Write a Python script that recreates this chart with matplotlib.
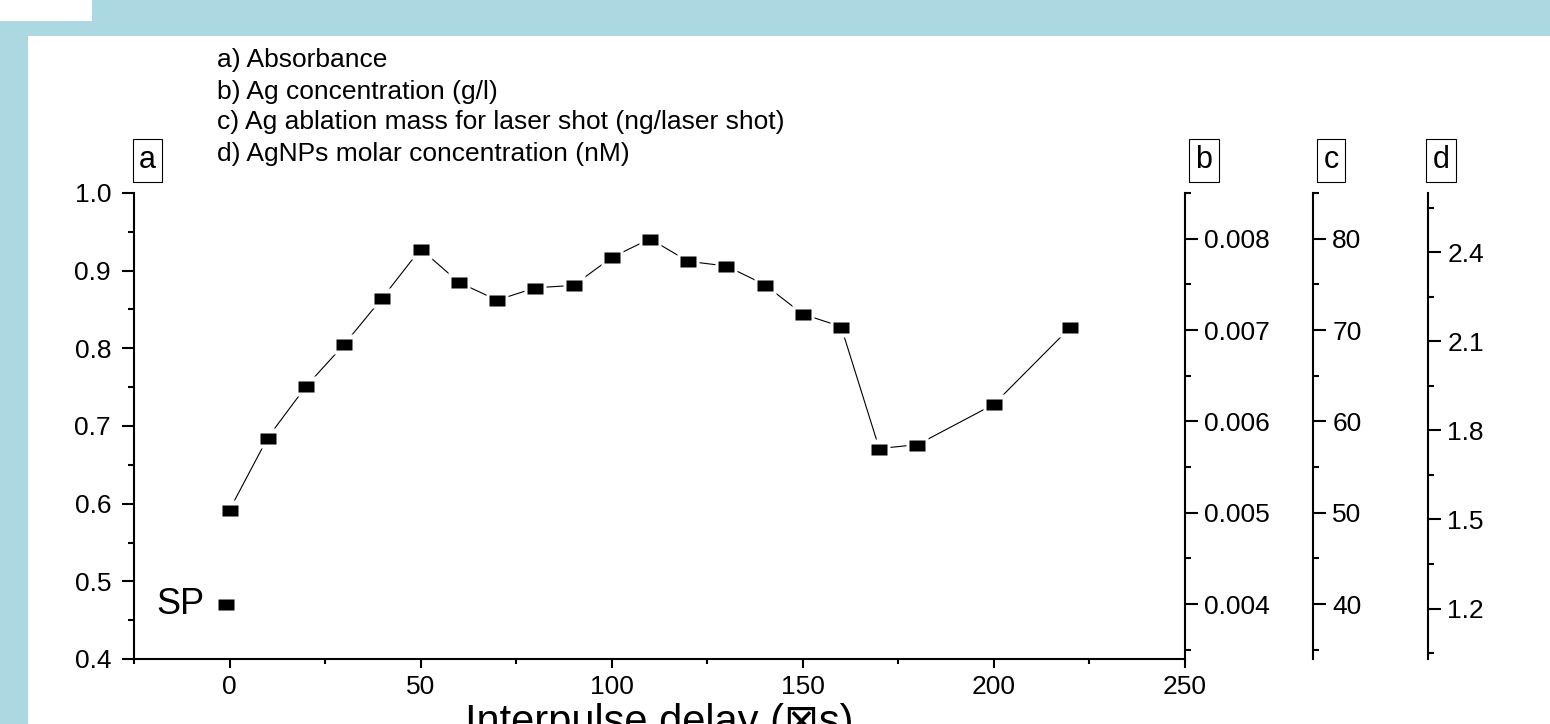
import matplotlib
matplotlib.use("Agg")
import matplotlib.pyplot as plt
from matplotlib.patches import Rectangle
from matplotlib.ticker import MultipleLocator, FormatStrFormatter

plt.rcParams['font.family'] = ['Liberation Sans', 'DejaVu Sans']

# data
delay = [0, 10, 20, 30, 40, 50, 60, 70, 80, 90, 100, 110, 120, 130, 140,
         150, 160, 170, 180, 200, 220]
absorbance = [0.592, 0.685, 0.751, 0.805, 0.865, 0.928, 0.885, 0.862, 0.878,
              0.881, 0.917, 0.941, 0.912, 0.906, 0.882, 0.844, 0.828, 0.671,
              0.676, 0.728, 0.827]
sp_delay = [-1]
sp_absorbance = [0.471]

legend_lines = ["a) Absorbance",
                "b) Ag concentration (g/l)",
                "c) Ag ablation mass for laser shot (ng/laser shot)",
                "d) AgNPs molar concentration (nM)"]

W, H = 1550, 724
fig = plt.figure(figsize=(W / 100, H / 100), dpi=100)
fig.patch.set_facecolor('#acd9e1')
fig.add_artist(Rectangle((28 / W, 0), 1, (H - 36) / H, transform=fig.transFigure,
                         fc='white', ec='none', zorder=0))
fig.add_artist(Rectangle((0, (H - 21) / H), 92 / W, 21 / H, transform=fig.transFigure,
                         fc='white', ec='none', zorder=0))

ax = fig.add_axes([134 / W, (H - 659) / H, 1051 / W, 466 / H])
ax.set_facecolor('white')

rect = [(-1, -0.72), (1, -0.72), (1, 0.72), (-1, 0.72), (-1, -0.72)]
halo = [(-1, -0.83), (1, -0.83), (1, 0.83), (-1, 0.83), (-1, -0.83)]
ax.plot(delay, absorbance, color='black', lw=0.8, zorder=2)
ax.plot(delay + sp_delay, absorbance + sp_absorbance, ls='none', marker=halo,
        ms=16.5, mfc='white', mec='none', zorder=3)
ax.plot(delay + sp_delay, absorbance + sp_absorbance, ls='none', marker=rect,
        ms=11, mfc='black', mec='none', zorder=4)
ax.text(-6.5, 0.458, 'SP', fontsize=26, ha='right', va='baseline')

ax.set_xlim(-25, 250)
ax.set_ylim(0.4, 1.0)
ax.xaxis.set_major_locator(MultipleLocator(50))
ax.xaxis.set_minor_locator(MultipleLocator(25))
ax.yaxis.set_major_locator(MultipleLocator(0.1))
ax.yaxis.set_minor_locator(MultipleLocator(0.05))
ax.yaxis.set_major_formatter(FormatStrFormatter('%.1f'))
for s in ['top', 'right']:
    ax.spines[s].set_visible(False)
for s in ['left', 'bottom']:
    ax.spines[s].set_linewidth(1.5)
ax.tick_params(axis='y', which='major', direction='out', length=9, width=1.5,
               labelsize=19, pad=7.5)
ax.tick_params(axis='y', which='minor', direction='out', length=4.5, width=1.5)
ax.tick_params(axis='x', which='major', direction='out', length=6.5, width=1.5,
               labelsize=19, pad=5)
ax.tick_params(axis='x', which='minor', direction='out', length=3.5, width=1.5)
ax.set_xlabel('Interpulse delay (\u22a0s)', fontsize=30)
ax.xaxis.set_label_coords(0.5, -0.095)


def right_axis(pos, lim, major, minor, fmt):
    t = ax.twinx()
    t.spines['right'].set_position(('axes', pos))
    for s in ['left', 'top', 'bottom']:
        t.spines[s].set_visible(False)
    t.spines['right'].set_linewidth(1.5)
    t.set_ylim(*lim)
    t.yaxis.set_major_locator(MultipleLocator(major))
    t.yaxis.set_minor_locator(MultipleLocator(minor))
    t.yaxis.set_major_formatter(FormatStrFormatter(fmt))
    t.tick_params(which='major', direction='out', length=9, width=1.5,
                  labelsize=19, pad=5)
    t.tick_params(which='minor', direction='out', length=4.5, width=1.5)
    return t


right_axis(1.0, (0.0034, 0.0085), 0.001, 0.0005, '%.3f')
right_axis((1312.7 - 134) / 1051, (34, 85), 10, 5, '%d')
right_axis((1427.7 - 134) / 1051, (1.03, 2.6), 0.3, 0.15, '%.1f')

baselines = [67, 98.5, 129.5, 160.5]
for line, yb in zip(legend_lines, baselines):
    fig.text(217 / W, (H - yb) / H, line, fontsize=19, ha='left', va='baseline')

for letter, xc in zip(['a', 'b', 'c', 'd'], [147.5, 1204, 1331, 1441]):
    fig.text(xc / W, (H - 168.5) / H, letter, fontsize=22, ha='center', va='baseline',
             bbox=dict(boxstyle='square,pad=0.2', fc='none', ec='black', lw=0.8))

fig.savefig('out.png', dpi=100, facecolor=fig.get_facecolor())
